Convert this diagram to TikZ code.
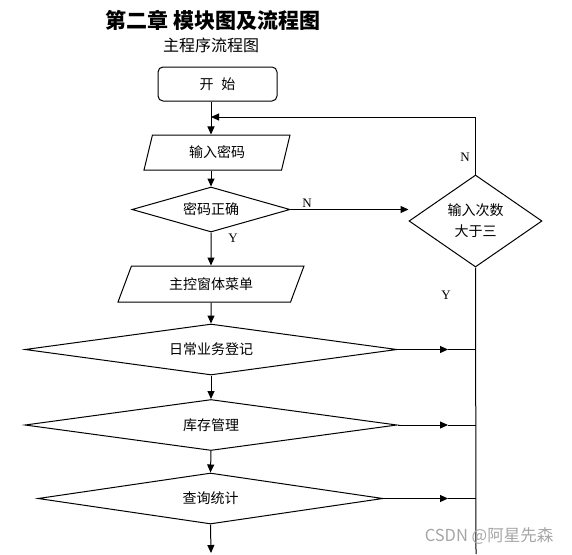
\documentclass[tikz,border=0pt]{standalone}
\usepackage{fontspec}
\newfontfamily\cjk{Noto Sans CJK SC}
\newfontfamily\latn{Liberation Serif}
\usetikzlibrary{shapes.geometric,arrows.meta}

\tikzset{
  txt/.style={font=\cjk\fontsize{14}{21}\selectfont},
  startbox/.style={txt, draw, rounded corners=5pt, minimum width=119pt, minimum height=34pt, inner sep=0pt},
  iobox/.style={txt, draw, trapezium, trapezium stretches body, inner sep=0pt},
  decide/.style={txt, draw, diamond, inner sep=0pt, align=center},
  arr/.style={-{Triangle[length=8pt,width=7pt]}},
  yn/.style={font=\latn\fontsize{13}{14}\selectfont},
}

\begin{document}
\begin{tikzpicture}[x=1pt, y=-1pt, line width=1pt]
\useasboundingbox (0,0) rectangle (572,554);

% ---------------------------
% 标题
% ---------------------------
\node[font=\cjk\bfseries\fontsize{21}{24}\selectfont] (title) at (213,20) {第二章 模块图及流程图};
\node[font=\cjk\fontsize{16}{20}\selectfont] (sub) at (211,45) {主程序流程图};

% ---------------------------
% 主流程
% ---------------------------
\node[startbox] (start) at (217.5,84) {开\hspace{8pt}始};
\node[iobox, trapezium left angle=57, trapezium right angle=123,
      minimum width=146pt, minimum height=35pt] (pw) at (217,152.5) {输入密码};
\node[decide, minimum width=158pt, minimum height=45pt, shape aspect=3.5] (ok) at (211,209.5) {密码正确};
\node[iobox, trapezium left angle=44, trapezium right angle=136,
      minimum width=186pt, minimum height=36pt] (menu) at (211,284) {主控窗体菜单};
\node[decide, minimum width=372pt, minimum height=51pt, shape aspect=7.3] (daily) at (211,349.5) {日常业务登记};
\node[decide, minimum width=372pt, minimum height=51pt, shape aspect=7.3] (stock) at (211,425) {库存管理};
\node[decide, minimum width=345pt, minimum height=51pt, shape aspect=6.8] (query) at (210.5,498.5) {查询统计};

% 次数判断
\node[decide, minimum width=133pt, minimum height=92pt, shape aspect=1.45] (cnt) at (475.5,221) {输入次数\\大于三};

\coordinate (loop)   at (211,117);
\coordinate (bottom) at (211,553);
\coordinate (rend)   at (476,554);
\coordinate (tip)    at (448,0);

% ---------------------------
% 连线
% ---------------------------
\draw[arr] (start.south -| ok.north) -- (pw.north -| ok.north);
\draw[arr] (pw.south -| ok.north) -- (ok.north);
\draw[arr] (ok.south) -- (menu.north);
\draw[arr] (menu.south) -- (daily.north);
\draw[arr] (daily.south) -- (stock.north);
\draw[arr] (stock.south) -- (query.north);
\draw[arr] (query.south) -- (bottom);

\draw[arr] (ok.east) -- (ok.east -| cnt.west);
\draw[arr] (cnt.north) |- (loop);
\draw (cnt.south) -- (rend);

\draw[arr] (daily.east) -- (daily.east -| tip);
\draw (daily.east -| tip) -- (daily.east -| rend);
\draw[arr] (stock.east) -- (stock.east -| tip);
\draw (stock.east -| tip) -- (stock.east -| rend);
\draw[arr] (query.east) -- (query.east -| tip);
\draw (query.east -| tip) -- (query.east -| rend);

\node[yn] (n1) at (307,203) {N};
\node[yn] (y1) at (233,238) {Y};
\node[yn] (n2) at (465,157) {N};
\node[yn] (y2) at (446,295) {Y};

\node[font=\cjk\fontsize{16.5}{18}\selectfont, text=black!35] (mark) at (489,536) {CSDN @阿星先森};

\end{tikzpicture}
\end{document}
